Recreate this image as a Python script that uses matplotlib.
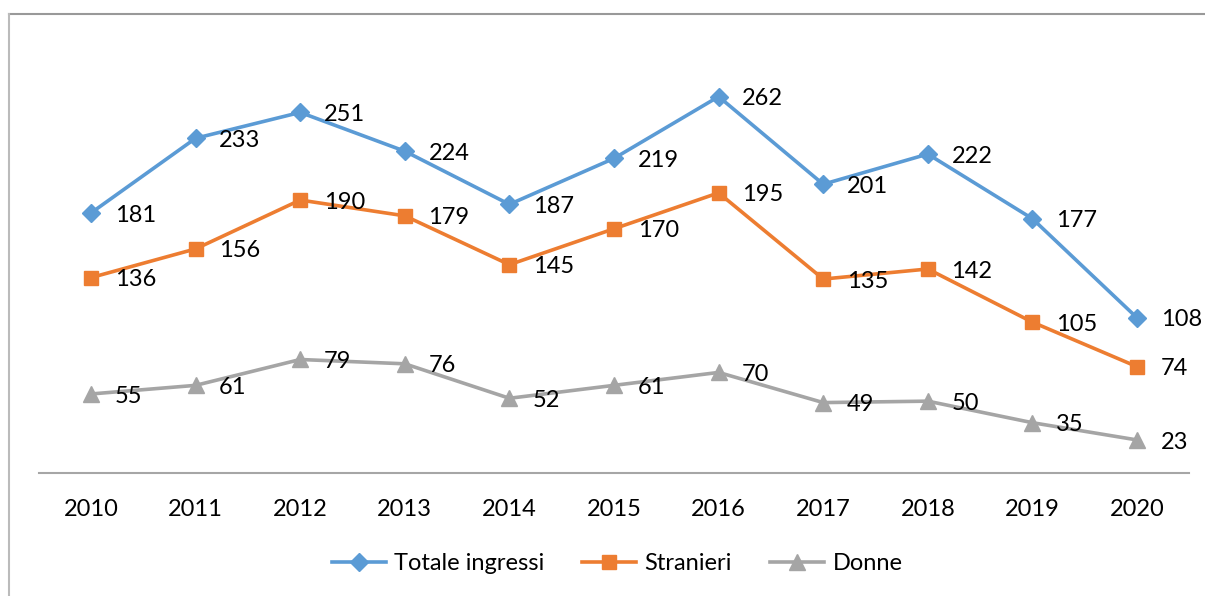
import matplotlib.pyplot as plt
from matplotlib.lines import Line2D

plt.rcParams['font.family'] = ['Lato', 'DejaVu Sans']

anni = ["2010", "2011", "2012", "2013", "2014", "2015", "2016", "2017", "2018", "2019", "2020"]
totale = [181, 233, 251, 224, 187, 219, 262, 201, 222, 177, 108]
stranieri = [136, 156, 190, 179, 145, 170, 195, 135, 142, 105, 74]
donne = [55, 61, 79, 76, 52, 61, 70, 49, 50, 35, 23]

fig = plt.figure(figsize=(12.05, 5.96), dpi=100)
ax = fig.add_axes([0.0321, 0.2064, 0.9549, 0.7231])

x = list(range(len(anni)))
series = [
    ("Totale ingressi", totale, "#5B9BD5", "D", 9),
    ("Stranieri", stranieri, "#ED7D31", "s", 10.5),
    ("Donne", donne, "#A5A5A5", "^", 11),
]
for nome, vals, col, mk, ms in series:
    ax.plot(x, vals, color=col, lw=2.6, marker=mk, markersize=ms, label=nome)
    for xi, v in zip(x, vals):
        ax.annotate(str(v), (xi, v), xytext=(17, -1.5), textcoords="offset points",
                    ha="left", va="center", fontsize=17, color="black")

ax.set_xlim(-0.5, 10.5)
ax.set_ylim(0, 300)
ax.set_xticks(x)
ax.set_xticklabels(anni, fontsize=17)
ax.tick_params(axis="x", length=0, pad=19)
ax.set_yticks([])
for s in ["top", "right", "left"]:
    ax.spines[s].set_visible(False)
ax.spines["bottom"].set_color("#A6A6A6")
ax.spines["bottom"].set_linewidth(1.5)

fig.legend(loc="center", bbox_to_anchor=(0.512, 0.054), ncol=3, frameon=False,
           fontsize=17, handlelength=2.3, columnspacing=1.6, handletextpad=0.35)

# bordo del grafico (solo alto e sinistra visibili)
fig.add_artist(Line2D([9 / 1205, 1.0], [1 - 14 / 596, 1 - 14 / 596],
                      transform=fig.transFigure, color="#999999", lw=1.5))
fig.add_artist(Line2D([9 / 1205, 9 / 1205], [0, 1 - 14 / 596],
                      transform=fig.transFigure, color="#BBBBBB", lw=1.5))

fig.savefig("out.png", dpi=100)
